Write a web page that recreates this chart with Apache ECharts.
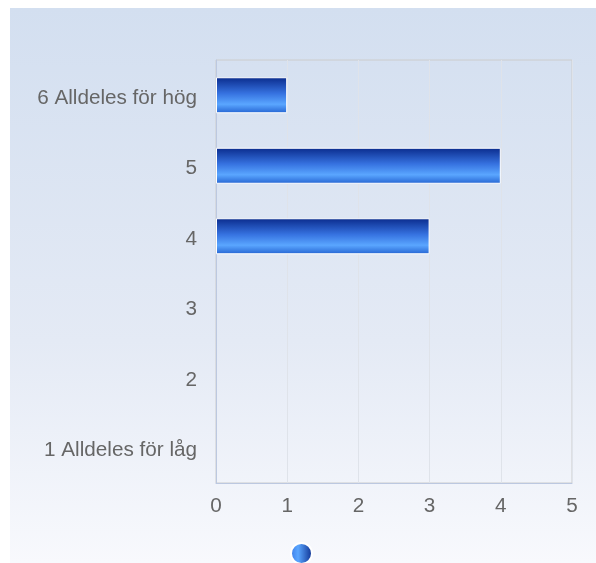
<!DOCTYPE html>
<html><head><meta charset="utf-8">
<script src="https://cdn.jsdelivr.net/npm/echarts@6/dist/echarts.min.js"></script>
<style>
html,body{margin:0;padding:0;background:#fff;}
#bg{position:absolute;left:10px;top:8px;width:586px;height:555px;background:linear-gradient(to bottom,#d3dff0 0%,#e4eaf5 60%,#f8f9fd 100%);}
#main{position:absolute;left:0;top:0;width:596px;height:563px;}
</style></head>
<body>
<div id="bg"></div>
<div id="main"></div>
<script>
var categories = ['1 Alldeles för låg', '2', '3', '4', '5', '6 Alldeles för hög'];
var values = [0, 0, 0, 3, 4, 1];
var xTicks = [0, 1, 2, 3, 4, 5];
var seriesName = 'Antal';

var chart = echarts.init(document.getElementById('main'), null, {renderer: 'canvas'});
var barGrad = new echarts.graphic.LinearGradient(0, 0, 0, 1, [
  {offset: 0, color: '#0a2b8c'},
  {offset: 0.45, color: '#3672e0'},
  {offset: 0.75, color: '#5aa6ff'},
  {offset: 1, color: '#2564d2'}
]);
var legendGrad = new echarts.graphic.LinearGradient(0, 0, 1, 0, [
  {offset: 0, color: '#3a7ae6'},
  {offset: 0.35, color: '#5aa6ff'},
  {offset: 1, color: '#0a2b8c'}
]);
var barData = values.map(function (v) {
  return v === 0 ? {value: v, itemStyle: {borderWidth: 0}} : {value: v};
});
chart.setOption({
  backgroundColor: 'transparent',
  animation: false,
  grid: {left: 216, top: 60, right: 24, bottom: 80, show: true, borderColor: '#cccccc', borderWidth: 1, backgroundColor: 'transparent'},
  legend: {
    show: true, left: 285, top: 537, itemWidth: 21, itemHeight: 21, icon: 'circle',
    data: [{name: seriesName, itemStyle: {color: legendGrad}}],
    formatter: function () { return ''; },
    textStyle: {fontSize: 1}
  },
  xAxis: {
    type: 'value', min: xTicks[0], max: xTicks[xTicks.length - 1], interval: 1,
    axisLine: {show: true, lineStyle: {color: '#bcc8e0', width: 1}},
    axisTick: {show: false},
    splitLine: {show: true, lineStyle: {color: '#dfe3ea', width: 1}},
    axisLabel: {color: '#666666', fontSize: 20.7, fontFamily: 'Liberation Sans, Arial, sans-serif', margin: 13}
  },
  yAxis: {
    type: 'category', data: categories,
    axisLine: {show: true, lineStyle: {color: '#bcc8e0', width: 1}},
    axisTick: {show: false},
    splitLine: {show: false},
    axisLabel: {
      color: '#666666', fontSize: 20.7, fontFamily: 'Liberation Sans, Arial, sans-serif', margin: 19,
      formatter: function (v) { return '{a|' + v + '}'; },
      rich: {a: {color: '#666666', fontSize: 20.7, fontFamily: 'Liberation Sans, Arial, sans-serif', padding: [6, 0, 0, 0]}}
    }
  },
  series: [{
    name: seriesName, type: 'bar', data: barData, barWidth: 36,
    itemStyle: {color: barGrad, borderColor: '#ffffff', borderWidth: 1}
  }]
});
</script>
</body></html>
